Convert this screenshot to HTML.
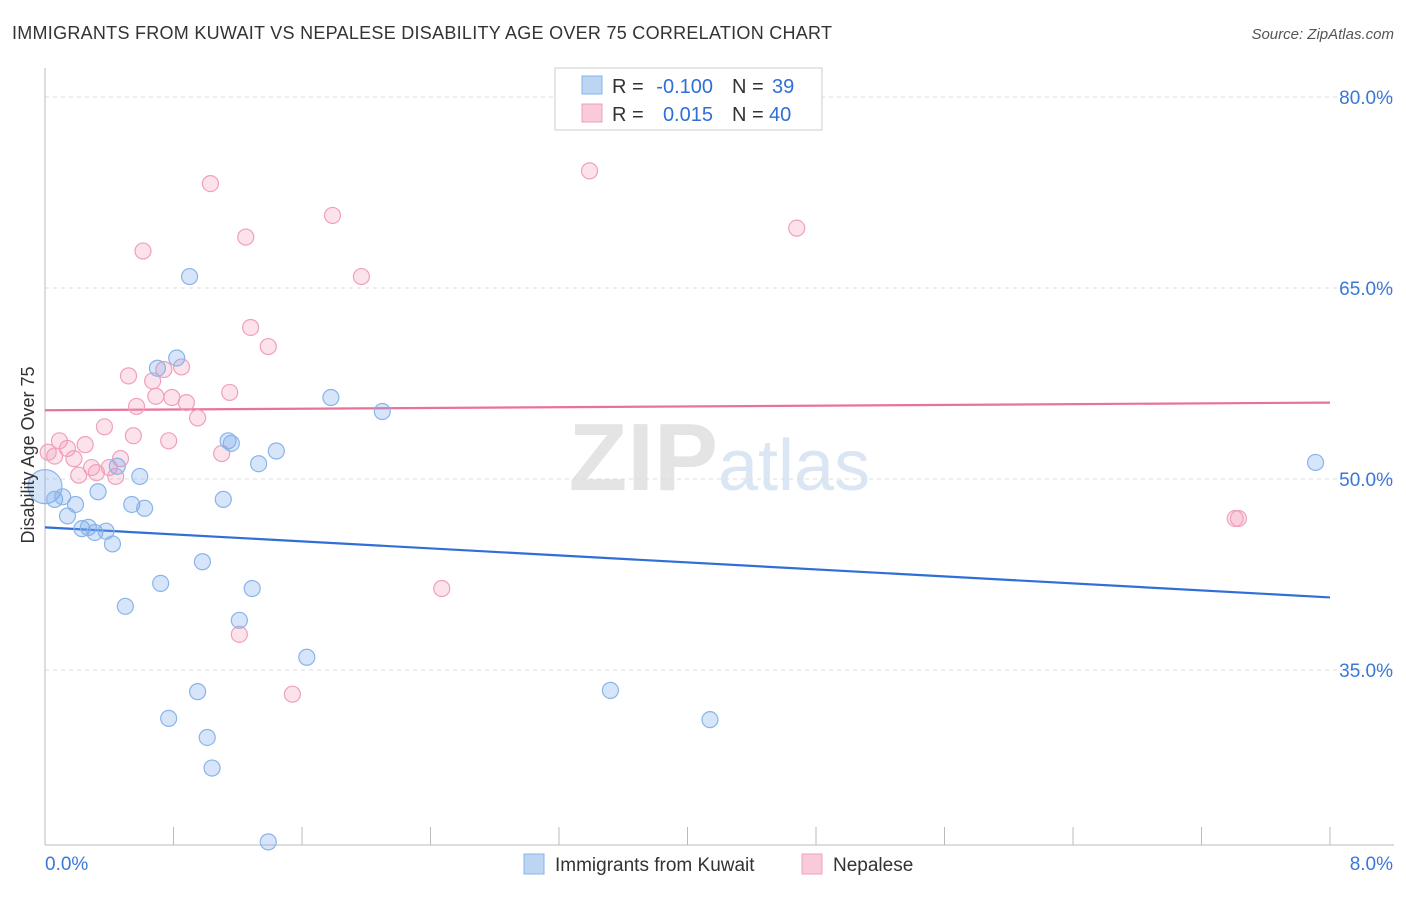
<!DOCTYPE html>
<html><head><meta charset="utf-8"><style>
body{margin:0;background:#fff;font-family:"Liberation Sans",sans-serif;}
svg text{font-family:"Liberation Sans",sans-serif;}
</style></head><body>
<svg id="chart" width="1406" height="892" xmlns="http://www.w3.org/2000/svg">
<text x="12" y="39" font-size="18" fill="#333" textLength="820" lengthAdjust="spacing">IMMIGRANTS FROM KUWAIT VS NEPALESE DISABILITY AGE OVER 75 CORRELATION CHART</text>
<text x="1394" y="39" font-size="15" fill="#555" font-style="italic" text-anchor="end">Source: ZipAtlas.com</text>
<text x="718" y="490" font-size="96" fill="#e4e4e4" text-anchor="end" font-family="Liberation Serif" font-weight="bold">ZIP</text>
<text x="718" y="490" font-size="72" fill="#dbe6f5">atlas</text>
<g id="grid"></g>
<g id="axes"></g>
<g id="lines"></g>
<g id="pts"></g>
<text transform="translate(34,455) rotate(-90)" font-size="18" fill="#333" text-anchor="middle">Disability Age Over 75</text>
<g>
<rect x="555" y="68" width="267" height="62" fill="#fff" stroke="#ccc"/>
<rect x="582" y="76" width="20" height="18" fill="#bcd5f3" stroke="#8ab4e8"/>
<rect x="582" y="104" width="20" height="18" fill="#f9cad9" stroke="#f0a0bb"/>
<text x="612" y="93" font-size="20" fill="#333">R =</text>
<text x="713" y="93" font-size="20" fill="#2f6fd6" text-anchor="end">-0.100</text>
<text x="732" y="93" font-size="20" fill="#333">N =</text>
<text x="772" y="93" font-size="20" fill="#2f6fd6">39</text>
<text x="612" y="121" font-size="20" fill="#333">R =</text>
<text x="713" y="121" font-size="20" fill="#2f6fd6" text-anchor="end">0.015</text>
<text x="732" y="121" font-size="20" fill="#333">N =</text>
<text x="769" y="121" font-size="20" fill="#2f6fd6">40</text>
</g>
<g>
<rect x="524" y="854" width="20" height="20" fill="#bcd5f3" stroke="#8ab4e8"/>
<text x="555" y="871" font-size="19" fill="#333">Immigrants from Kuwait</text>
<rect x="802" y="854" width="20" height="20" fill="#f9cad9" stroke="#f0a0bb"/>
<text x="833" y="871" font-size="19" fill="#333">Nepalese</text>
</g>
</svg>
<script>
const yTicks=[35,50,65,80];
const xTickLabels=["0.0%","8.0%"];
const kuwaitX=[0,0.06,0.11,0.14,0.19,0.23,0.27,0.31,0.33,0.38,0.42,0.45,0.50,0.54,0.59,0.62,0.70,0.72,0.77,0.82,0.90,0.95,0.98,1.01,1.04,1.11,1.14,1.16,1.21,1.29,1.33,1.39,1.44,1.63,1.78,2.10,3.52,4.14,7.91];
const kuwaitY=[49.4,48.4,48.6,47.1,48.0,46.1,46.2,45.8,49.0,45.9,44.9,51.0,40.0,48.0,50.2,47.7,58.7,41.8,31.2,59.5,65.9,33.3,43.5,29.7,27.3,48.4,53.0,52.8,38.9,41.4,51.2,21.5,52.2,36.0,56.4,55.3,33.4,31.1,51.3];
const nepalX=[0.02,0.06,0.09,0.14,0.18,0.21,0.25,0.29,0.32,0.37,0.40,0.44,0.47,0.52,0.55,0.57,0.61,0.67,0.69,0.74,0.77,0.79,0.85,0.88,0.95,1.03,1.10,1.15,1.21,1.25,1.28,1.39,1.54,1.79,1.97,2.47,3.39,4.68,7.41,7.43];
const nepalY=[52.1,51.8,53.0,52.4,51.6,50.3,52.7,50.9,50.5,54.1,50.9,50.2,51.6,58.1,53.4,55.7,67.9,57.7,56.5,58.6,53.0,56.4,58.8,56.0,54.8,73.2,52.0,56.8,37.8,69.0,61.9,60.4,33.1,70.7,65.9,41.4,74.2,69.7,46.9,46.9];
const kuwaitTrend=[46.2,40.7];
const nepalTrend=[55.4,56.0];
const NS="http://www.w3.org/2000/svg";
const X=v=>45+v*160.625;
const Y=v=>479-(v-50)*12.733;
function mk(tag,attrs,parent){const e=document.createElementNS(NS,tag);for(const k in attrs)e.setAttribute(k,attrs[k]);document.getElementById(parent).appendChild(e);return e;}
yTicks.forEach(t=>{
 const l=mk('line',{x1:45,x2:1394,y1:Y(t),y2:Y(t),stroke:'#ddd','stroke-dasharray':'4,4'},'grid');
 
 
 const tx=mk('text',{x:1393,y:Y(t)+7,'font-size':19,fill:'#3a78d6','text-anchor':'end'},'grid');
 tx.textContent=t.toFixed(1)+'%';
 
 
});
let a=mk('line',{x1:45,x2:45,y1:68,y2:845,stroke:'#bbb'},'axes');


a=mk('line',{x1:45,x2:1394,y1:845,y2:845,stroke:'#bbb'},'axes');


for(let i=1;i<=10;i++){
 const t=mk('line',{x1:X(i*0.8),x2:X(i*0.8),y1:827,y2:845,stroke:'#bbb'},'axes');
 
 
}
[[0,'start',45],[1,'end',1393]].forEach(([i,anc,x])=>{
 const t=mk('text',{x:x,y:870,'font-size':19,fill:'#3a78d6','text-anchor':anc},'axes');
 t.textContent=xTickLabels[i];
 
 
});
function pts(xs,ys,fill,stroke,name){
 xs.forEach((x,i)=>{
  const r=(i===0&&name==='kuwait-point')?17:8;
  const c=mk('circle',{cx:X(x),cy:Y(ys[i]),r:r,fill:fill,stroke:stroke,'stroke-width':1.2},'pts');
  
  
 });
}
pts(nepalX,nepalY,'rgba(244,160,188,0.3)','#f0a0bb','nepalese-point');
pts(kuwaitX,kuwaitY,'rgba(120,170,235,0.3)','#8ab4e8','kuwait-point');
let tl=mk('line',{x1:X(0),x2:X(8),y1:Y(kuwaitTrend[0]),y2:Y(kuwaitTrend[1]),stroke:'#2f6fd6','stroke-width':2.2},'lines');


tl=mk('line',{x1:X(0),x2:X(8),y1:Y(nepalTrend[0]),y2:Y(nepalTrend[1]),stroke:'#e8739a','stroke-width':2.2},'lines');


</script>
</body></html>
